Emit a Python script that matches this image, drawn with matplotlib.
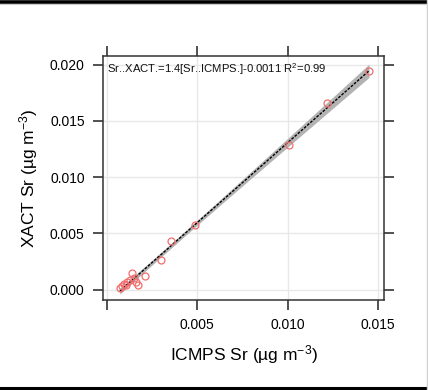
import matplotlib
matplotlib.use("Agg")
import matplotlib.pyplot as plt
import numpy as np
from matplotlib.lines import Line2D

plt.rcParams['font.family'] = ['Liberation Sans', 'DejaVu Sans']
plt.rcParams['mathtext.fontset'] = 'custom'
plt.rcParams['mathtext.rm'] = 'Liberation Sans'
plt.rcParams['mathtext.it'] = 'Liberation Sans'

# ICMPS vs XACT Sr (ug m-3)
icmps = [0.00073, 0.00087, 0.00095, 0.00105, 0.00114, 0.00128, 0.00142,
         0.00150, 0.00160, 0.00175, 0.00210, 0.00303, 0.00353, 0.00488,
         0.01010, 0.01220, 0.01450]
xact = [0.00018, 0.00030, 0.00050, 0.00042, 0.00071, 0.00086, 0.00146,
        0.00100, 0.00070, 0.00042, 0.00118, 0.00260, 0.00430, 0.00575,
        0.01286, 0.01657, 0.01947]

xticks = [0.0, 0.005, 0.010, 0.015]
xticklabels = ["", "0.005", "0.010", "0.015"]
yticks = [0.0, 0.005, 0.010, 0.015, 0.020]
yticklabels = ["0.000", "0.005", "0.010", "0.015", "0.020"]
eq_text = "Sr..XACT.=1.4[Sr..ICMPS.]-0.0011 R$^2$=0.99"

x = np.array(icmps)
y = np.array(xact)

# linear fit and 95% confidence band
slope, icept = np.polyfit(x, y, 1)
xf = np.linspace(x.min(), x.max(), 100)
yf = slope * xf + icept
n = len(x)
resid = y - (slope * x + icept)
s = np.sqrt(np.sum(resid**2) / (n - 2))
se = s * np.sqrt(1 / n + (xf - x.mean())**2 / np.sum((x - x.mean())**2))
ci = 2.0 * se

fig = plt.figure(figsize=(4.28, 3.90), dpi=100)
ax = fig.add_axes([0.2407, 0.2308, 0.6573, 0.6264])

ax.fill_between(xf, yf - ci, yf + ci, color="#b3b3b3", lw=0, zorder=2)
ax.plot(xf, yf, color="black", lw=1.0, ls=(0, (2, 1)), zorder=3)
ax.plot(x, y, "o", mfc="none", mec="#f26d6d", ms=5, mew=0.9, zorder=4)

ax.set_xlim(-0.0002, 0.01535)
ax.set_ylim(-0.00092, 0.0208)
ax.set_xticks(xticks)
ax.set_xticklabels(xticklabels)
ax.set_yticks(yticks)
ax.set_yticklabels(yticklabels)
ax.grid(True, color="#e8e8e8", lw=1.0, zorder=0)
ax.set_axisbelow(True)

ax.tick_params(direction="out", length=7.2, width=1.1, color="#222222",
               labelsize=10, pad=6, top=True, right=True,
               labeltop=False, labelright=False)
for sp in ax.spines.values():
    sp.set_color("#333333")
    sp.set_linewidth(1.1)

ax.text(0.014, 0.945, eq_text, transform=ax.transAxes, fontsize=8.1,
        va="center", ha="left", color="#111111")

ax.set_xlabel("ICMPS Sr (µg m$^{-3}$)", fontsize=12.5, labelpad=8)
ax.set_ylabel("XACT Sr (µg m$^{-3}$)", fontsize=12.5, labelpad=7)

# frame lines around the picture
fig.add_artist(Line2D([0, 1], [0.996, 0.996], transform=fig.transFigure,
                      color="black", lw=2.6))
fig.add_artist(Line2D([0, 1], [0.989, 0.989], transform=fig.transFigure,
                      color="#cccccc", lw=0.8))
fig.add_artist(Line2D([0, 1], [0.004, 0.004], transform=fig.transFigure,
                      color="black", lw=2.2))
fig.add_artist(Line2D([0.998, 0.998], [0, 1], transform=fig.transFigure,
                      color="#d0d0d0", lw=1.0))

fig.savefig("out.png", dpi=100)
